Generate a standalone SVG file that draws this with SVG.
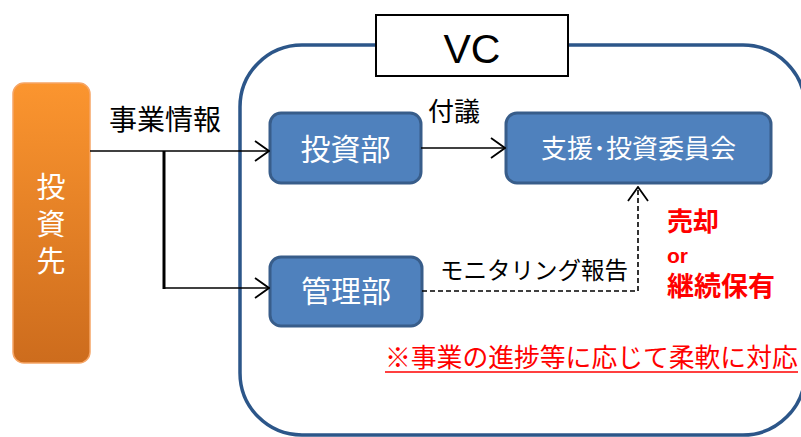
<svg xmlns="http://www.w3.org/2000/svg" width="801" height="437" viewBox="0 0 801 437">
<style>
  .jp { font-family: "Noto Sans CJK JP", "Noto Sans", sans-serif; }
  .node { fill: #4f81bd; stroke: #385d8a; stroke-width: 3; }
  .ntext { fill: #ffffff; text-anchor: middle; }
  .lbl { fill: #000000; }
  .red { fill: #ff0000; font-weight: bold; }
  .conn { fill: none; stroke: #000000; stroke-width: 1.6; }
  .dash { stroke-dasharray: 5 3; }
</style>
<defs>
  <linearGradient id="orangeGrad" x1="0" y1="0" x2="0" y2="1">
    <stop offset="0" stop-color="#fb952f"/>
    <stop offset="1" stop-color="#cd6c1d"/>
  </linearGradient>
  <marker id="arrow" viewBox="0 0 16 22" refX="15" refY="11" markerWidth="16" markerHeight="22" markerUnits="userSpaceOnUse" orient="auto">
    <path d="M1,1 L15,11 L1,21" fill="none" stroke="#000000" stroke-width="1.8" stroke-dasharray="none"/>
  </marker>
</defs>
<rect width="801" height="437" fill="#ffffff"/>

<g id="vc-container">
  <rect x="240" y="45" width="565" height="390" rx="62" ry="62" fill="#ffffff" stroke="#2c5689" stroke-width="3.5"/>
</g>
<g id="vc-label">
  <rect x="376" y="15" width="192" height="61" fill="#ffffff" stroke="#000000" stroke-width="2"/>
  <text x="472" y="63" font-family="'Liberation Sans', Arial, sans-serif" font-size="41" text-anchor="middle" fill="#000000">VC</text>
</g>

<g id="toshisaki">
  <rect x="13" y="83" width="77" height="280" rx="11" ry="11" fill="url(#orangeGrad)" stroke="#f6a565" stroke-width="1.5"/>
  <text class="jp" x="51" y="172" font-size="29" fill="#ffffff" writing-mode="vertical-rl" letter-spacing="8">投資先</text>
</g>

<g id="toshibu">
  <rect class="node" x="270" y="113" width="151" height="70" rx="11" ry="11"/>
  <text class="jp ntext" x="345.5" y="160" font-size="30">投資部</text>
</g>

<g id="kanribu">
  <rect class="node" x="270" y="257" width="152" height="69" rx="11" ry="11"/>
  <text class="jp ntext" x="346" y="302" font-size="30">管理部</text>
</g>

<g id="iinkai">
  <rect class="node" x="506" y="113" width="265" height="70" rx="11" ry="11"/>
  <text class="jp ntext" x="638.5" y="158" font-size="26">支援･投資委員会</text>
</g>

<g id="connectors">
  <path class="conn" d="M90,151 L269,151" marker-end="url(#arrow)"/>
  <path d="M164,151 L164,289" fill="none" stroke="#000000" stroke-width="3"/>
  <path class="conn" d="M164,288 L269,288" marker-end="url(#arrow)"/>
  <path class="conn" d="M421,148 L505,148" marker-end="url(#arrow)"/>
  <path class="conn dash" d="M422,291 L638,291 L638,187" marker-end="url(#arrow)"/>
</g>

<g id="labels">
  <text class="jp lbl" x="109" y="130" font-size="28">事業情報</text>
  <text class="jp lbl" x="428" y="121" font-size="26">付議</text>
  <text class="jp lbl" x="440" y="279" font-size="23.5">モニタリング報告</text>
  <text class="jp red" x="667" y="231" font-size="26">売却</text>
  <text class="red" x="667" y="263" font-size="21" font-family="'Liberation Sans', Arial, sans-serif">or</text>
  <text class="jp red" x="667" y="296" font-size="27">継続保有</text>
  <text class="jp" x="385" y="367" font-size="25.8" fill="#ff0000">※事業の進捗等に応じて柔軟に対応</text>
  <line x1="385" y1="372" x2="798" y2="372" stroke="#ff0000" stroke-width="1.5"/>
</g>
</svg>
